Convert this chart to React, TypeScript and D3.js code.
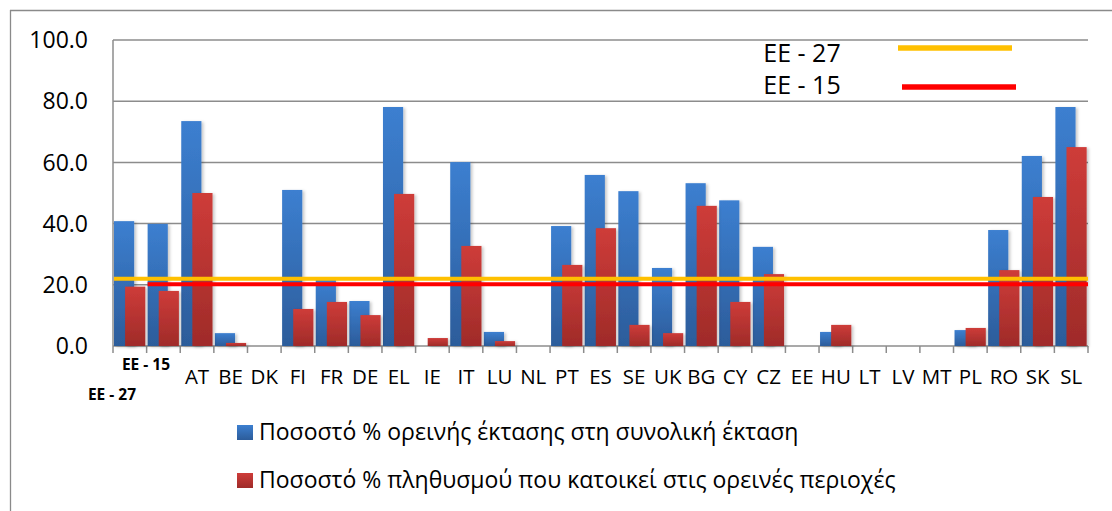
import * as d3 from 'd3';

// categories along the x axis
const categories = [
  'EE-27', 'EE-15', 'AT', 'BE', 'DK', 'FI', 'FR', 'DE', 'EL', 'IE', 'IT', 'LU', 'NL', 'PT', 'ES',
  'SE', 'UK', 'BG', 'CY', 'CZ', 'EE', 'HU', 'LT', 'LV', 'MT', 'PL', 'RO', 'SK', 'SL',
];
// % mountain area in total area
const areaShare = [
  40.8, 39.9, 73.5, 4.2, 0, 51.0, 21.6, 14.7, 78.1, 0, 60.1, 4.6, 0, 39.2, 55.9,
  50.6, 25.5, 53.2, 47.6, 32.4, 0, 4.6, 0, 0, 0, 5.2, 37.9, 62.1, 78.1,
];
// % population living in mountain areas
const popShare = [
  19.4, 18.0, 50.0, 1.0, 0, 12.1, 14.4, 10.1, 49.7, 2.6, 32.7, 1.6, 0, 26.5, 38.5,
  6.9, 4.2, 45.8, 14.4, 23.5, 0, 6.9, 0, 0, 0, 5.9, 24.8, 48.7, 65.0,
];
const yTicks = [0, 20, 40, 60, 80, 100];
// reference lines: label, value, first category it starts at, colour
const refLines = [
  { label: 'EE - 27', value: 22.0, from: 'EE-27', color: '#FFC000' },
  { label: 'EE - 15', value: 20.2, from: 'EE-15', color: '#FF0000' },
];
const seriesNames = [
  'Ποσοστό % ορεινής έκτασης στη συνολική έκταση',
  'Ποσοστό % πληθυσμού που κατοικεί στις ορεινές περιοχές',
];

const W = 1112;
const H = 511;
const plot = { left: 113, right: 1088, top: 40, bottom: 346 };
const font = '"Open Sans", sans-serif';

export default function App() {
  const x = d3.scaleBand<string>().domain(categories).range([plot.left, plot.right]).padding(0);
  const y = d3.scaleLinear().domain([0, 100]).range([plot.bottom, plot.top]);
  const bw = x.bandwidth();
  const barW = bw * 0.6;

  return (
    <svg width={W} height={H} style={{ position: 'absolute', left: 0, top: 0, background: '#fff' }}>
      <defs>
        <linearGradient id="gBlue" x1="0" y1="0" x2="0" y2="1">
          <stop offset="0" stopColor="#3C7FD0" />
          <stop offset="1" stopColor="#2C5C9A" />
        </linearGradient>
        <linearGradient id="gRed" x1="0" y1="0" x2="0" y2="1">
          <stop offset="0" stopColor="#CE3C39" />
          <stop offset="1" stopColor="#9F2B29" />
        </linearGradient>
        <filter id="shadow" x="-20%" y="-5%" width="150%" height="110%">
          <feDropShadow dx="2" dy="1" stdDeviation="1.5" floodColor="#000" floodOpacity="0.22" />
        </filter>
      </defs>

      {/* outer frame (left and top edges visible) */}
      <line x1={10.5} x2={10.5} y1={10} y2={H} stroke="#8a8a8a" strokeWidth={1.3} />
      <line x1={10} x2={W} y1={10.5} y2={10.5} stroke="#8a8a8a" strokeWidth={1.3} />

      {/* gridlines */}
      {yTicks.map(t => (
        <line key={'g' + t} x1={plot.left} x2={plot.right} y1={y(t)} y2={y(t)}
          stroke="#8c8c8c" strokeWidth={1.5} />
      ))}
      <line x1={plot.left} x2={plot.left} y1={plot.top} y2={plot.bottom} stroke="#8c8c8c" strokeWidth={1.5} />

      {/* y tick labels */}
      {yTicks.map(t => (
        <text key={'t' + t} x={88} y={y(t)} dy="0.36em" textAnchor="end"
          fontFamily={font} fontSize={23} fill="#000">{t.toFixed(1)}</text>
      ))}

      {/* x axis ticks */}
      {[...categories.map(c => x(c) as number), plot.right].map((px, i) => (
        <line key={'xt' + i} x1={px} x2={px} y1={plot.bottom} y2={plot.bottom + 7}
          stroke="#8c8c8c" strokeWidth={1.5} />
      ))}

      {/* bars */}
      <g filter="url(#shadow)">
        {categories.map((c, i) => areaShare[i] > 0 && (
          <rect key={'a' + c} x={(x(c) as number) + bw * 0.03} y={y(areaShare[i])}
            width={barW} height={plot.bottom - y(areaShare[i])} fill="url(#gBlue)" />
        ))}
      </g>
      <g filter="url(#shadow)">
        {categories.map((c, i) => popShare[i] > 0 && (
          <rect key={'p' + c} x={(x(c) as number) + bw * 0.36} y={y(popShare[i])}
            width={barW} height={plot.bottom - y(popShare[i])} fill="url(#gRed)" />
        ))}
      </g>

      {/* reference lines */}
      {refLines.map(r => (
        <line key={'r' + r.label} x1={(x(r.from) as number) + 1} x2={plot.right}
          y1={y(r.value)} y2={y(r.value)} stroke={r.color} strokeWidth={4} />
      ))}

      {/* category labels */}
      {categories.slice(2).map(c => (
        <text key={'c' + c} x={(x(c) as number) + bw / 2} y={384} textAnchor="middle"
          fontFamily={font} fontSize={20.5} fill="#000">{c}</text>
      ))}
      <text x={146} y={370} textAnchor="middle" fontFamily={font} fontSize={15.5}
        fontWeight="bold" fill="#000">EE - 15</text>
      <text x={112} y={400} textAnchor="middle" fontFamily={font} fontSize={15.5}
        fontWeight="bold" fill="#000">EE - 27</text>

      {/* reference line legend */}
      {refLines.map((r, i) => (
        <g key={'rl' + r.label}>
          <text x={802} y={62 + i * 32} textAnchor="middle" fontFamily={font} fontSize={25}
            fill="#000">{r.label}</text>
          <line x1={898 + i * 4} x2={1012 + i * 4} y1={48 + i * 39} y2={48 + i * 39}
            stroke={r.color} strokeWidth={5.5} />
        </g>
      ))}

      {/* series legend */}
      {seriesNames.map((s, i) => (
        <g key={'l' + i}>
          <rect x={237} y={425 + i * 48} width={16} height={15}
            fill={i === 0 ? 'url(#gBlue)' : 'url(#gRed)'} />
          <text x={259} y={440 + i * 48} fontFamily={font} fontSize={23} fill="#000">{s}</text>
        </g>
      ))}
    </svg>
  );
}
